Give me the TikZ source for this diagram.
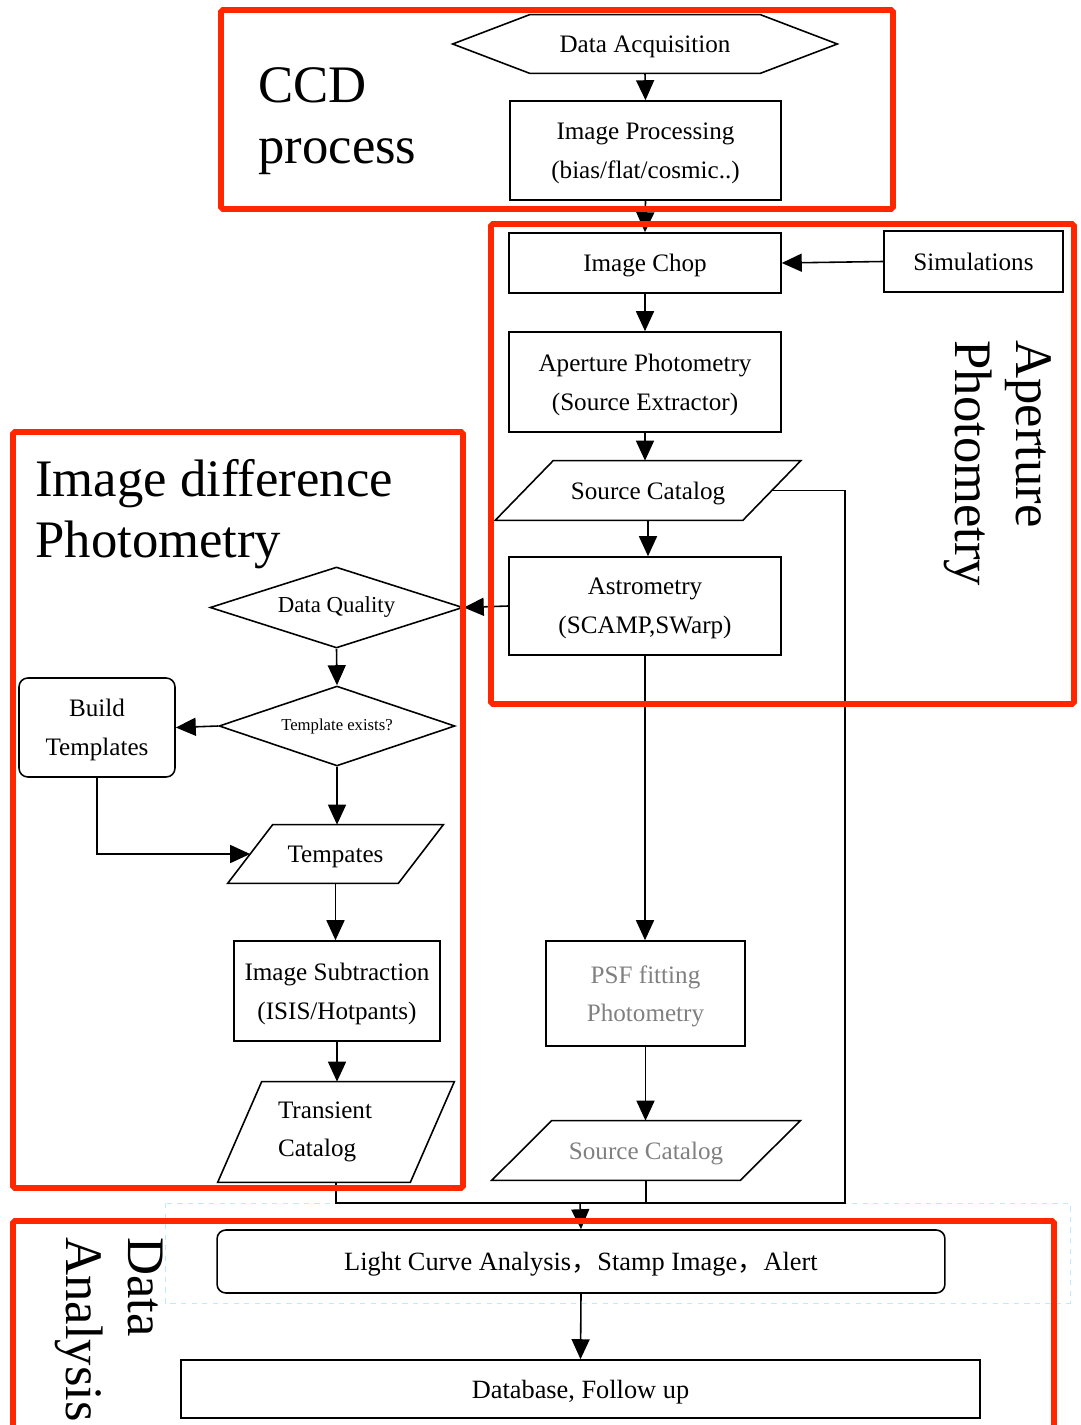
\documentclass[tikz,border=0pt]{standalone}
\usepackage{fontspec}
\setmainfont{Liberation Serif}
\newfontfamily\cjk{Noto Sans CJK SC}
\usetikzlibrary{shapes.geometric,arrows.meta}
\definecolor{framered}{RGB}{255,38,0}

% parallelogram drawn round a (plain) node: name, half slant
\newcommand{\slantbox}[2]{%
  \draw[line width=0.9pt] ([xshift=-#2]#1.south west) -- ([xshift=#2]#1.north west)
    -- ([xshift=#2]#1.north east) -- ([xshift=-#2]#1.south east) -- cycle;}

\begin{document}
\begin{tikzpicture}
[x=0.02cm, y=-0.02cm,
box/.style={draw, line width=0.9pt, inner sep=2pt, text depth=0pt, align=center, font=\fontsize{14.3}{22}\selectfont},
roundbox/.style={box, rounded corners=5pt},
slanted/.style={inner sep=2pt, text depth=0pt, align=center, font=\fontsize{14.3}{22}\selectfont},
decision/.style={draw, diamond, aspect=3, inner sep=0pt, line width=0.9pt},
frame/.style={draw=framered, line width=3.2pt, rounded corners=1pt},
title/.style={inner sep=0pt, align=left, font=\fontsize{30}{35}\selectfont},
arr/.style={line width=0.9pt, -{Triangle[length=0.4cm,width=0.36cm]}},
line/.style={line width=0.9pt}]
\useasboundingbox (0,0) rectangle (1080,1425);
\draw[cyan!25, dashed, line width=0.5pt] (165,1203) rectangle (1070,1303);
% CCD process
\node[slanted, inner sep=0pt, minimum width=7.68cm, minimum height=1.16cm] (acq) at (645,44) {Data Acquisition};
\draw[line] (acq.west) -- ([xshift=1.54cm]acq.north west) -- ([xshift=-1.54cm]acq.north east)
  -- (acq.east) -- ([xshift=-1.54cm]acq.south east) -- ([xshift=1.54cm]acq.south west) -- cycle;
\node[box, minimum width=5.42cm, minimum height=1.98cm] (improc) at (645.5,150.5) {Image Processing\\(bias/flat/cosmic..)};
% aperture photometry
\node[box, minimum width=5.44cm, minimum height=1.2cm] (chop) at (645,263) {Image Chop};
\node[box, minimum width=3.58cm, minimum height=1.22cm] (sim) at (973.5,261.5) {Simulations};
\node[box, minimum width=5.44cm, minimum height=2cm] (aper) at (645,382) {Aperture Photometry\\(Source Extractor)};
\node[slanted, minimum width=4.94cm, minimum height=1.18cm] (srccat) at (648,490.5) {Source Catalog};
\slantbox{srccat}{0.58cm}
\node[box, minimum width=5.44cm, minimum height=1.96cm] (astro) at (645,606) {Astrometry\\(SCAMP,SWarp)};
% image difference photometry
\node[decision, minimum width=5.06cm, minimum height=1.62cm, font=\fontsize{13}{16}\selectfont] (dq) at (336.5,607.5) {Data Quality};
\node[decision, minimum width=4.72cm, minimum height=1.6cm, font=\fontsize{9.5}{12}\selectfont] (te) at (337,726) {Template exists?};
\node[roundbox, minimum width=3.12cm, minimum height=1.98cm] (bt) at (97,727.5) {Build\\Templates};
\node[slanted, minimum width=3.4cm, minimum height=1.16cm] (tmpl) at (335.5,854) {Tempates};
\slantbox{tmpl}{0.45cm}
\node[box, minimum width=4.12cm, minimum height=2cm] (isub) at (337,991) {Image Subtraction\\(ISIS/Hotpants)};
\node[inner sep=2pt, font=\fontsize{14.3}{22}\selectfont, minimum width=3.84cm, minimum height=2cm, text width=2.32cm, align=left] (trans) at (336,1132) {Transient\\Catalog};
\slantbox{trans}{0.44cm}
% PSF photometry
\node[box, minimum width=3.98cm, minimum height=2.1cm, text=gray] (psf) at (645.5,993.5) {PSF fitting\\Photometry};
\node[slanted, minimum width=4.96cm, minimum height=1.18cm, text=gray] (srccat2) at (646,1150.5) {Source Catalog};
\slantbox{srccat2}{0.6cm}
% data analysis
\node[roundbox, minimum width=14.56cm, minimum height=1.26cm, font=\fontsize{15}{18}\selectfont] (lc) at (581,1261.5) {Light Curve Analysis{\cjk ，}Stamp Image{\cjk ，}Alert};
\node[box, minimum width=15.98cm, minimum height=1.16cm, font=\fontsize{15}{18}\selectfont] (db) at (580.5,1389) {Database, Follow up};
\coordinate (merge) at (580,1203);
\coordinate (bend) at (845,1203);
% connectors
\draw[arr] (acq.south) -- (improc.north);
\draw[arr] (improc.south) -- (chop.north);
\draw[arr] (sim.west) -- (chop.east);
\draw[arr] (chop.south) -- (aper.north);
\draw[arr] (aper.south) -- (aper.south |- srccat.north);
\draw[arr] (srccat.south) -- (srccat.south |- astro.north);
\draw[arr] (astro.west) -- (dq.east);
\draw[arr] (dq.south) -- (te.north);
\draw[arr] (te.west) -- (bt.east);
\draw[arr] (bt.south) |- (tmpl.west);
\draw[arr] (te.south) -- (te.south |- tmpl.north);
\draw[arr] (tmpl.south) -- (tmpl.south |- isub.north);
\draw[arr] (isub.south) -- (isub.south |- trans.north);
\draw[arr] (astro.south) -- (astro.south |- psf.north);
\draw[arr] (psf.south) -- (psf.south |- srccat2.north);
\draw[line] (trans.south) |- (merge);
\draw[line] (srccat2.south) |- (merge);
\draw[line] (srccat.east) -| (bend) -- (merge);
\draw[arr] (merge) -- (lc.north);
\draw[arr] (lc.south) -- (db.north);
% titles
\node[title, anchor=north west] (ccd) at (258,67) {CCD\\process};
\node[title, anchor=north west] (idp) at (35,459) {Image difference\\Photometry};
\node[title, rotate=-90, anchor=north west] (apt) at (1052,340) {Aperture\\Photometry};
\node[title, rotate=-90, anchor=north west] (dat) at (163,1237) {Data\\Analysis};
% frames
\draw[frame] (221,10) rectangle (893,209);
\draw[frame] (491,224) rectangle (1074,704);
\draw[frame] (13,432) rectangle (463,1188);
\draw[frame] (13,1221) rectangle (1054,1445);
\end{tikzpicture}
\end{document}
